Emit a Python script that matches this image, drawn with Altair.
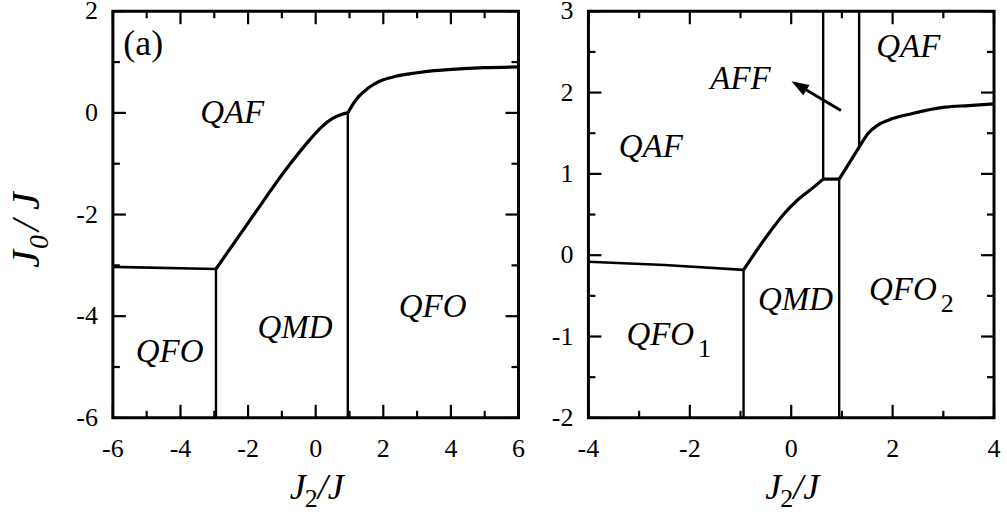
import altair as alt
import pandas as pd

SERIF = "Times New Roman"
W, H = 406, 407
MAJOR_LEN, MINOR_LEN = 13, 7

# ---------------- panel (a): J2/J in [-6, 6], J0/J in [-6, 2] ----------------
a_x_dom = [-6, 6]
a_y_dom = [-6, 2]
a_x_major = [-6, -4, -2, 0, 2, 4, 6]
a_x_minor = [-5, -3, -1, 1, 3, 5]
a_y_major = [-6, -4, -2, 0, 2]
a_y_minor = [-5, -3, -1, 1]

# QFO / QAF boundary (left, nearly flat)
a_flat_x = [-6.0, -2.95]
a_flat_y = [-3.03, -3.07]
# QMD / QAF boundary
a_low_x = [-2.95, -1.88, -0.82, -0.19, 0.18, 0.50, 0.76, 0.95]
a_low_y = [-3.07, -2.05, -1.06, -0.54, -0.275, -0.11, -0.03, 0.0]
# QFO / QAF boundary (right)
a_up_x = [0.95, 1.10, 1.27, 1.50, 1.77, 2.00, 2.36, 3.00, 3.50, 4.36, 5.00, 6.00]
a_up_y = [0.0, 0.17, 0.32, 0.46, 0.58, 0.65, 0.72, 0.79, 0.83, 0.87, 0.89, 0.905]
# vertical boundaries: (x, top) down to the bottom of the frame
a_vert_x = [-2.95, 0.95]
a_vert_top = [-3.07, 0.0]

a_lab_text = ["QAF", "QMD", "QFO", "QFO"]
a_lab_x = [-2.47, -0.61, -4.32, 3.46]
a_lab_y = [0.0, -4.24, -4.70, -3.82]
a_tag_text = ["(a)"]
a_tag_x = [-5.69]
a_tag_y = [1.36]

# ---------------- panel (b): J2/J in [-4, 4], J0/J in [-2, 3] ----------------
b_x_dom = [-4, 4]
b_y_dom = [-2, 3]
b_x_major = [-4, -2, 0, 2, 4]
b_x_minor = [-3, -1, 1, 3]
b_y_major = [-2, -1, 0, 1, 2, 3]
b_y_minor = [-1.5, -0.5, 0.5, 1.5, 2.5]

b_flat_x = [-4.0, -2.5, -0.94]
b_flat_y = [-0.08, -0.12, -0.18]
b_low_x = [-0.94, -0.44, -0.14, 0.12, 0.45, 0.63]
b_low_y = [-0.18, 0.27, 0.51, 0.676, 0.84, 0.936]
b_step_x = [0.63, 0.946]
b_step_y = [0.936, 0.936]
b_up_x = [0.946, 1.15, 1.34, 1.52, 1.71, 2.00, 2.37, 3.03, 3.50, 4.00]
b_up_y = [0.936, 1.14, 1.33, 1.50, 1.60, 1.68, 1.74, 1.82, 1.84, 1.86]
# vertical boundaries: (x, y_start, y_end)
b_vert_x = [-0.94, 0.946, 0.63, 1.34]
b_vert_y1 = [-0.18, 0.936, 0.936, 1.33]
b_vert_y2 = [-2.0, -2.0, 3.0, 3.0]

b_lab_text = ["QAF", "QAF", "AFF", "QMD"]
b_lab_x = [-2.77, 2.31, -1.0, 0.085]
b_lab_y = [1.33, 2.56, 2.17, -0.55]
# labels carrying a subscript: main text ends at x, subscript follows
b_sub_main = ["QFO", "QFO"]
b_sub_idx = ["1", "2"]
b_sub_x = [-1.915, 2.87]
b_sub_y = [-0.98, -0.43]

# pointer from the narrow AFF strip to its label
b_arrow_x, b_arrow_y = [0.98], [1.78]
b_arrow_x2, b_arrow_y2 = [0.25], [2.05]
b_tip_x, b_tip_y = [0.006], [2.14]

# axis titles, split so the index can sit lower as a subscript
x_title = ("J", "2", "/J")
y_title = ("J", "0", "/ J")


def num_label(v):
    return str(int(v)) if float(v).is_integer() else str(v)


def polyline(xs, ys):
    return pd.DataFrame({"x": xs, "y": ys, "i": list(range(len(xs)))})


def vlines(xs, y1, y2):
    return [pd.DataFrame({"x": [x, x], "y": [a, b], "i": [0, 1]})
            for x, a, b in zip(xs, y1, y2)]


def panel(xdom, ydom, xmaj, xmin, ymaj, ymin, curves, thin, texts,
          extra, with_ytitle):
    xs = alt.Scale(domain=xdom, nice=False, zero=False)
    ys = alt.Scale(domain=ydom, nice=False, zero=False)
    X = lambda f="x": alt.X(f"{f}:Q", scale=xs, axis=None)
    Y = lambda f="y": alt.Y(f"{f}:Q", scale=ys, axis=None)

    layers = []
    # inward ticks on all four sides
    for vals, ln in ((xmaj, MAJOR_LEN), (xmin, MINOR_LEN)):
        d = pd.DataFrame({"x": vals})
        base = alt.Chart(d).mark_rule(color="black", strokeWidth=2.2)
        layers.append(base.encode(x=X(), y=alt.value(H), y2=alt.value(H - ln)))
        layers.append(base.encode(x=X(), y=alt.value(0), y2=alt.value(ln)))
    for vals, ln in ((ymaj, MAJOR_LEN), (ymin, MINOR_LEN)):
        d = pd.DataFrame({"y": vals})
        base = alt.Chart(d).mark_rule(color="black", strokeWidth=2.2)
        layers.append(base.encode(y=Y(), x=alt.value(0), x2=alt.value(ln)))
        layers.append(base.encode(y=Y(), x=alt.value(W), x2=alt.value(W - ln)))

    # tick labels
    xl = pd.DataFrame({"x": xmaj, "t": [num_label(v) for v in xmaj]})
    layers.append(alt.Chart(xl).mark_text(font=SERIF, fontSize=26, color="black",
                                          baseline="middle")
                  .encode(x=X(), y=alt.value(H + 31), text="t:N"))
    yl = pd.DataFrame({"y": ymaj, "t": [num_label(v) for v in ymaj]})
    layers.append(alt.Chart(yl).mark_text(font=SERIF, fontSize=26, color="black",
                                          align="right", baseline="middle")
                  .encode(y=Y(), x=alt.value(-15), text="t:N"))

    # x-axis title J2/J centred under the panel
    xt = pd.DataFrame({"x": [(xdom[0] + xdom[1]) / 2], "a": [x_title[0]],
                       "b": [x_title[1]], "c": [x_title[2]]})
    ty = H + 70
    layers.append(alt.Chart(xt).mark_text(font=SERIF, fontSize=36, fontStyle="italic",
                                          align="right", baseline="middle", dx=-10,
                                          color="black")
                  .encode(x=X(), y=alt.value(ty), text="a:N"))
    layers.append(alt.Chart(xt).mark_text(font=SERIF, fontSize=26, align="left",
                                          baseline="middle", dx=-11, dy=11,
                                          color="black")
                  .encode(x=X(), y=alt.value(ty), text="b:N"))
    layers.append(alt.Chart(xt).mark_text(font=SERIF, fontSize=36, fontStyle="italic",
                                          align="left", baseline="middle", dx=2,
                                          color="black")
                  .encode(x=X(), y=alt.value(ty), text="c:N"))

    if with_ytitle:
        yt = pd.DataFrame({"a": [y_title[0]], "b": [y_title[1]], "c": [y_title[2]]})
        tx, tyy = -86, 239
        layers.append(alt.Chart(yt).mark_text(font=SERIF, fontSize=40, fontStyle="italic",
                                              angle=270, align="right", baseline="middle",
                                              color="black")
                      .encode(x=alt.value(tx), y=alt.value(tyy), text="a:N"))
        layers.append(alt.Chart(yt).mark_text(font=SERIF, fontSize=28, fontStyle="italic",
                                              angle=270, align="left", baseline="middle",
                                              dx=1, dy=13, color="black")
                      .encode(x=alt.value(tx), y=alt.value(tyy), text="b:N"))
        layers.append(alt.Chart(yt).mark_text(font=SERIF, fontSize=40, fontStyle="italic",
                                              angle=270, align="left", baseline="middle",
                                              dx=19, color="black")
                      .encode(x=alt.value(tx), y=alt.value(tyy), text="c:N"))

    for df, sw in thin:
        layers.append(alt.Chart(df).mark_line(color="black", strokeWidth=sw)
                      .encode(x=X(), y=Y(), order="i:Q"))
    for df in curves:
        layers.append(alt.Chart(df).mark_line(color="black", strokeWidth=3.2,
                                              strokeJoin="round",
                                              interpolate="monotone")
                      .encode(x=X(), y=Y(), order="i:Q"))
    for df in texts:
        layers.append(alt.Chart(df).mark_text(font=SERIF, fontSize=33,
                                              fontStyle="italic", color="black")
                      .encode(x=X(), y=Y(), text="t:N"))
    layers.extend(extra(X, Y))
    return alt.layer(*layers).properties(width=W, height=H)


# ---- panel (a)
a_thin = [(polyline(a_flat_x, a_flat_y), 2.6)]
a_thin += [(df, 2.4) for df in vlines(a_vert_x, a_vert_top, [a_y_dom[0]] * 2)]
a_curves = [polyline(a_low_x, a_low_y), polyline(a_up_x, a_up_y)]
a_texts = [pd.DataFrame({"x": a_lab_x, "y": a_lab_y, "t": a_lab_text})]


def a_extra(X, Y):
    tag = pd.DataFrame({"x": a_tag_x, "y": a_tag_y, "t": a_tag_text})
    return [alt.Chart(tag).mark_text(font=SERIF, fontSize=36, align="left",
                                     color="black")
            .encode(x=X(), y=Y(), text="t:N")]


left = panel(a_x_dom, a_y_dom, a_x_major, a_x_minor, a_y_major, a_y_minor,
             a_curves, a_thin, a_texts, a_extra, True)

# ---- panel (b)
b_thin = [(polyline(b_flat_x, b_flat_y), 2.6), (polyline(b_step_x, b_step_y), 3.2)]
b_thin += [(df, 2.4) for df in vlines(b_vert_x, b_vert_y1, b_vert_y2)]
b_curves = [polyline(b_low_x, b_low_y), polyline(b_up_x, b_up_y)]
b_texts = [pd.DataFrame({"x": b_lab_x, "y": b_lab_y, "t": b_lab_text})]


def b_extra(X, Y):
    sub = pd.DataFrame({"x": b_sub_x, "y": b_sub_y, "t": b_sub_main, "s": b_sub_idx})
    main = (alt.Chart(sub).mark_text(font=SERIF, fontSize=33, fontStyle="italic",
                                     align="right", color="black")
            .encode(x=X(), y=Y(), text="t:N"))
    idx = (alt.Chart(sub).mark_text(font=SERIF, fontSize=26, align="left",
                                    dx=4, dy=14, color="black")
           .encode(x=X(), y=Y(), text="s:N"))
    arr = pd.DataFrame({"x": b_arrow_x, "y": b_arrow_y,
                        "x2": b_arrow_x2, "y2": b_arrow_y2})
    shaft = (alt.Chart(arr).mark_rule(color="black", strokeWidth=3)
             .encode(x=X(), y=Y(), x2="x2:Q", y2="y2:Q"))
    tip = pd.DataFrame({"x": b_tip_x, "y": b_tip_y})
    head = (alt.Chart(tip).mark_point(shape="M0,0 L0.7,2 L-0.7,2 Z", filled=True,
                                      size=300, angle=301, color="black",
                                      opacity=1)
            .encode(x=X(), y=Y()))
    return [main, idx, shaft, head]


right = panel(b_x_dom, b_y_dom, b_x_major, b_x_minor, b_y_major, b_y_minor,
              b_curves, b_thin, b_texts, b_extra, False)

chart = (alt.hconcat(left, right, spacing=70, bounds="flush")
         .properties(padding={"left": 5, "top": -4, "right": 5, "bottom": 5},
                     background="white")
         .configure_view(stroke="black", strokeWidth=3)
         .configure_concat(spacing=70))

chart.save("out.html", embed_options={"renderer": "svg", "actions": False})
